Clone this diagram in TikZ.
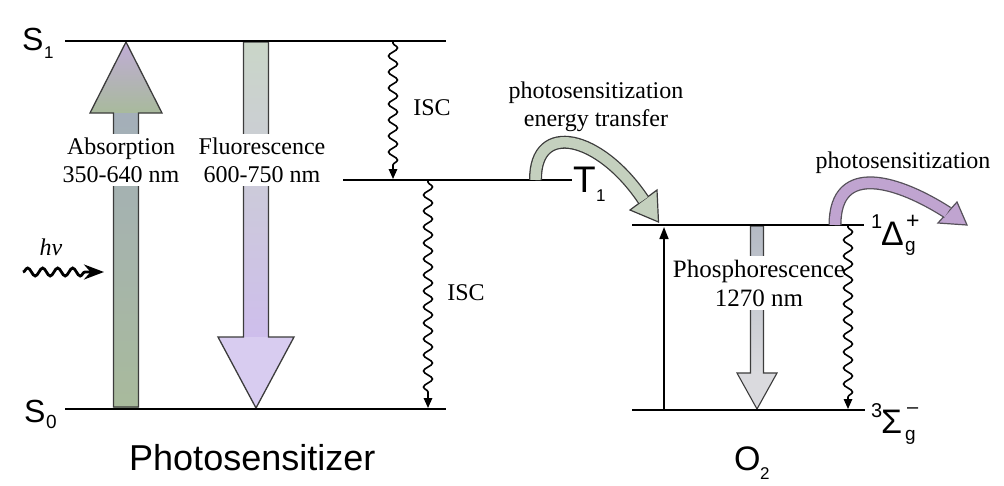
\documentclass[tikz,border=0pt]{standalone}
\usepackage{fontspec}
\setmainfont{Liberation Serif}
\newfontfamily\sansf{Liberation Sans}
\usetikzlibrary{decorations.pathmorphing,arrows.meta}
\definecolor{absLav}{RGB}{192,172,214}
\definecolor{absGreen}{RGB}{168,186,156}
\definecolor{absBlue}{RGB}{160,164,214}
\definecolor{fluGreen}{RGB}{202,214,200}
\definecolor{fluLav}{RGB}{206,190,236}
\definecolor{fluHead}{RGB}{216,204,240}
\definecolor{phosGray}{RGB}{218,218,222}
\definecolor{phosTop}{RGB}{180,186,196}
\definecolor{arrGreen}{RGB}{196,208,190}
\definecolor{arrViolet}{RGB}{192,164,208}
\definecolor{outl}{RGB}{60,60,60}
\begin{document}
\begin{tikzpicture}[x=1pt,y=-1pt,
  level/.style={line width=2.3pt, draw=black},
  bigout/.style={draw=outl, line width=1.3pt, line join=miter},
  serif/.style={font=\fontsize{24}{28}\selectfont, inner sep=0pt},
  gapbox/.style={serif, fill=white, inner xsep=2pt, inner ysep=4pt, align=center},
  sanslab/.style={font=\sansf\fontsize{#1}{#1}\selectfont, inner sep=0pt, anchor=base west},
  isc/.style={line width=1.6pt, decorate,
    decoration={snake, amplitude=4.5pt, segment length=16pt, pre length=1pt, post length=9pt},
    -{Triangle[length=10pt,width=8.5pt]}},
  thinarrow/.style={line width=1.5pt, -{Triangle[length=12pt,width=9pt]}}
]
\useasboundingbox (0,0) rectangle (1004,485);

% ---------- Absorption arrow ----------
\path[top color=absLav, bottom color=absGreen] (126,42) -- (162,113) -- (90,113) -- cycle;
\path[top color=absGreen!50!absBlue, middle color=absBlue, bottom color=absGreen] (113.5,113) rectangle (138.5,407);
\draw[bigout] (126,42) -- (162,113) -- (138.5,113) -- (138.5,407) -- (113.5,407) -- (113.5,113) -- (90,113) -- cycle;
\node[gapbox] (abs) at (121,160) {Absorption\\350-640 nm};

% ---------- Fluorescence arrow ----------
\path[top color=fluGreen, middle color=fluLav, bottom color=fluLav] (243.5,42) rectangle (268.5,337);
\path[fill=fluHead] (218,337) -- (294,337) -- (256,408) -- cycle;
\draw[bigout] (243.5,42) -- (268.5,42) -- (268.5,337) -- (294,337) -- (256,408) -- (218,337) -- (243.5,337) -- cycle;
\node[gapbox] (flu) at (262,160) {Fluorescence\\600-750 nm};

% ---------- Phosphorescence arrow ----------
\path[top color=phosTop, bottom color=phosGray] (750.5,226) rectangle (763.5,373);
\path[fill=phosGray] (737,373) -- (777,373) -- (757,409) -- cycle;
\draw[bigout, line width=1.1pt] (750.5,226) -- (763.5,226) -- (763.5,373) -- (777,373) -- (757,409) -- (737,373) -- (750.5,373) -- cycle;
\node[gapbox, font=\fontsize{25}{29}\selectfont] (phos) at (759,283) {Phosphorescence\\1270 nm};

% ---------- energy levels ----------
\coordinate (S1a) at (65,41);   \coordinate (S1b) at (446,41);
\coordinate (S0a) at (65,409);  \coordinate (S0b) at (446,409);
\coordinate (T1a) at (343,180); \coordinate (T1b) at (572,180);
\coordinate (Da)  at (632,225); \coordinate (Db)  at (864,225);
\coordinate (Sa)  at (632,410); \coordinate (Sb)  at (865,410);
\draw[level] (S1a) -- (S1b);
\draw[level] (S0a) -- (S0b);
\draw[level] (T1a) -- (T1b);
\draw[level] (Da) -- (Db);
\draw[level] (Sa) -- (Sb);

% ---------- wavy ISC arrows ----------
\coordinate (isc1s) at (393,42);  \coordinate (isc1e) at (393,179);
\coordinate (isc2s) at (428,181); \coordinate (isc2e) at (428,408);
\coordinate (iscOs) at (848,226); \coordinate (iscOe) at (848,409);
\draw[isc] (isc1s) -- (isc1e);
\draw[isc] (isc2s) -- (isc2e);
\draw[isc] (iscOs) -- (iscOe);
\node[serif, anchor=base] (iscA) at (432,115) {ISC};
\node[serif, anchor=base] (iscB) at (466,300) {ISC};

% ---------- O2 excitation arrow ----------
\coordinate (exs) at (664,409); \coordinate (exe) at (664,227);
\draw[thinarrow] (exs) -- (exe);

% ---------- h nu ----------
\coordinate (hvs) at (23,272); \coordinate (hve) at (104,272);
\draw[line width=2.8pt, decorate,
  decoration={snake, amplitude=4pt, segment length=15pt, post length=16pt},
  -{Stealth[length=20pt,width=15pt]}] (hvs) -- (hve);
\node[serif, anchor=base] (hv) at (51,255) {\itshape hν};

% ---------- energy transfer curved arrow ----------
\filldraw[fill=arrGreen, draw=outl, line width=1.2pt, line join=miter] (630,210) -- (658.5,222) -- (657,190) -- cycle;
\draw[line width=13pt, draw=outl] (535.5,180) .. controls (535,120) and (600,135) .. (643.5,200);
\draw[line width=10.4pt, draw=arrGreen] (535.5,180) .. controls (535,120) and (600,135) .. (643.5,200);
\node[serif, align=center] (etlab) at (596,107) {photosensitization\\energy transfer};

% ---------- photosensitization curved arrow ----------
\filldraw[fill=arrViolet, draw=outl!80!arrViolet, line width=1.2pt, line join=miter] (938,223) -- (967,225) -- (957,202) -- cycle;
\draw[line width=13pt, draw=outl!80!arrViolet] (835,225) .. controls (835,160) and (900,182) .. (947.5,212.5);
\draw[line width=10.4pt, draw=arrViolet] (835,225) .. controls (835,160) and (900,182) .. (947.5,212.5);
\node[serif, anchor=base] (pslab) at (903,168) {photosensitization};

% ---------- state labels ----------
\node[sanslab=32] (S1) at (22,50) {S};
\node[sanslab=17] (S1sub) at (44,58) {1};
\node[sanslab=32] (S0) at (24,422) {S};
\node[sanslab=19] (S0sub) at (46,428) {0};
\node[sanslab=37] (T1) at (573,192) {T};
\node[sanslab=17] (T1sub) at (596,201) {1};
\node[sanslab=20] (Dsup) at (871,228) {1};
\node[sanslab=34] (Delta) at (881,245) {Δ};
\node[sanslab=23] (Dplus) at (906,228) {+};
\node[sanslab=19] (Dg) at (905,251) {g};
\node[sanslab=20] (Ssup) at (871,417) {3};
\node[sanslab=34] (Sigma) at (881,433) {Σ};
\node[sanslab=20] (Sminus) at (907,413) {–};
\node[sanslab=19] (Sg) at (905,440) {g};
\node[sanslab=36] (PS) at (129,470) {Photosensitizer};
\node[sanslab=34] (O2) at (734,470) {O};
\node[sanslab=17] (O2sub) at (760,479) {2};
\end{tikzpicture}
\end{document}
